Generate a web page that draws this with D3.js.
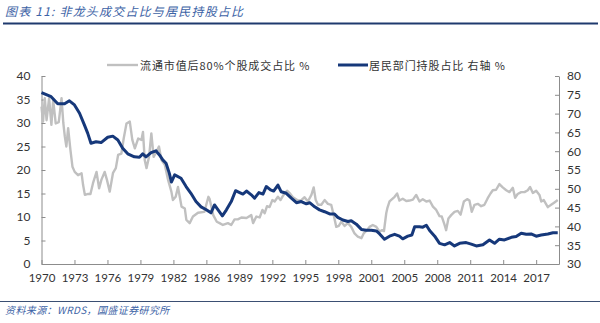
<!DOCTYPE html>
<html>
<head>
<meta charset="utf-8">
<script src="https://cdn.jsdelivr.net/npm/d3@7"></script>
<style>
  html, body { margin: 0; padding: 0; background: #fff; }
  svg { display: block; }
</style>
</head>
<body>
<svg id="chart" width="600" height="323"></svg>
<script>
// ---- data (x = quarter index from 1970Q1) ----
const tickLabels = ["1970","1973","1976","1979","1982","1986","1989","1992","1995","1998","2001","2005","2008","2011","2014","2017"];
const tickStep = 13;          // quarters between labelled ticks
const lastIndex = 204;

const grayIdx = [0,0.6,1.3,2.0,3.0,3.9,4.6,5.6,6.8,7.9,8.6,9.2,9.8,10.5,11.4,12.2,13.1,14.4,15.8,16.4,17.1,18.4,19.3,20.3,21.7,22.7,23.6,24.9,25.8,26.9,28.2,29.3,30.2,31.5,32.4,33.5,34.8,35.8,36.8,38.1,39.4,40.0,40.7,41.4,42.4,43.3,44.2,45.3,46.3,47.3,48.6,49.9,51.2,51.8,52.9,53.8,54.5,55.2,56.5,57.1,58.4,59.7,61.7,64.2,65.8,66.3,67.7,69.1,70.2,71.5,73.5,74.8,76.1,77.4,78.8,80.8,82.7,83.4,84.7,86.0,87.1,88.0,88.9,89.9,91.0,91.9,93.2,94.2,95.4,96.8,97.8,99.1,101.1,102.4,103.7,105.0,106.4,107.3,108.1,109.0,110.3,111.6,112.9,114.2,115.1,116.2,117.2,118.2,119.5,120.8,122.1,123.4,124.7,126.1,127.0,128.3,129.3,130.6,132.0,133.3,134.3,135.0,135.9,136.4,137.2,139.2,140.2,141.1,142.4,143.8,145.1,146.4,147.7,149.0,150.3,151.7,153.0,154.3,155.6,156.9,157.8,158.9,159.5,160.4,161.5,162.8,164.1,165.2,166.5,167.8,168.7,169.6,170.7,172.0,173.3,174.6,175.9,177.0,177.9,179.2,180.5,181.8,183.2,184.5,185.8,186.7,187.7,189.1,190.4,191.7,192.6,193.7,195.0,196.3,197.0,198.0,199.6,200.9,202.2,203.5];
const grayPct = [33.5,30.3,35.3,30.6,35.3,29.6,34.9,29.9,30.2,35.3,30.0,27.1,25.0,28.9,24.3,20.7,19.6,18.9,19.3,16.8,14.7,14.9,14.9,17.2,19.6,16.1,17.9,19.6,17.9,15.4,19.4,20.4,23.2,23.5,26.7,29.9,30.3,26.4,24.6,26.7,26.4,28.1,22.1,20.4,22.8,27.8,22.8,23.9,25.0,22.1,21.1,17.9,15.4,13.6,14.3,16.4,14.3,12.2,11.8,9.4,8.7,10.1,10.9,11.1,14.3,13.8,10.4,9.0,8.7,8.3,8.7,8.3,9.5,9.5,9.9,9.8,10.4,8.7,10.1,9.9,11.5,10.8,12.3,12.1,13.6,13.3,14.3,13.6,14.7,15.6,15.1,14.2,13.5,13.6,14.2,13.3,14.7,16.3,13.6,12.6,12.6,13.6,12.8,12.6,10.6,7.9,8.1,9.0,8.1,8.7,7.9,6.5,5.8,5.5,6.5,7.2,7.9,8.3,7.9,6.9,7.2,7.0,10.8,12.0,13.3,14.3,15.0,13.5,13.9,13.4,13.5,13.7,14.7,13.3,13.8,13.3,13.5,12.2,11.5,10.2,10.1,8.3,7.2,9.7,10.4,11.1,11.3,10.5,13.3,13.8,13.5,11.1,12.6,12.8,12.3,12.6,14.0,15.0,15.7,15.8,17.0,16.3,15.7,15.3,16.2,14.1,14.9,15.3,15.3,15.7,16.4,15.1,15.6,14.7,13.3,13.6,12.1,12.6,13.1,13.6];

const blueIdx = [0,3.8,6.4,9.1,11.0,13.0,15.0,16.9,18.2,19.5,21.5,23.5,26.1,28.1,30.1,32.0,34.0,36.6,38.6,39.9,41.2,43.2,45.1,46.5,47.8,49.1,50.4,51.2,52.5,55.0,57.0,58.9,60.9,62.9,64.8,66.8,68.2,69.6,71.3,72.9,74.8,76.5,78.1,79.4,80.8,82.7,84.0,85.7,87.3,88.6,90.3,91.5,93.2,94.5,96.5,98.5,100.5,102.4,104.4,105.7,107.7,109.6,111.6,113.6,115.5,116.8,118.8,120.8,122.1,124.1,126.1,128.0,130.0,132.0,133.3,135.2,137.2,139.2,141.1,142.4,144.4,146.0,147.1,149.0,150.3,151.7,153.0,155.0,156.9,158.9,160.9,162.8,164.8,167.4,169.4,171.4,174.0,176.6,178.6,180.5,182.5,185.2,187.1,189.1,191.1,193.0,195.0,197.0,199.6,201.6,203.5];
const bluePct = [75.6,74.5,72.6,72.6,73.4,72.3,70.1,67.0,64.8,62.1,62.5,62.3,63.7,64.0,63.0,60.8,59.3,58.5,58.4,59.3,58.5,59.6,60.1,59.0,57.7,56.8,54.1,51.8,53.7,52.8,50.6,48.8,46.6,45.2,44.5,43.6,45.7,44.4,42.8,44.4,46.6,49.5,49.0,48.6,49.4,48.4,47.5,49.0,48.6,50.6,49.7,49.4,51.0,49.2,48.8,47.5,46.3,46.6,46.0,46.3,45.2,44.4,43.9,43.3,43.3,42.4,41.7,41.3,41.5,40.6,39.2,39.0,39.0,38.8,38.0,36.6,37.4,37.9,37.4,36.7,37.4,37.7,39.9,39.9,39.8,40.3,38.9,37.4,35.5,35.1,35.7,34.8,35.5,35.7,35.3,34.8,35.1,36.4,35.5,36.6,36.4,37.1,37.3,38.2,37.9,38.0,37.4,37.7,38.0,38.3,38.3];

const leftTicks = [0,5,10,15,20,25,30,35,40];
const rightTicks = [30,35,40,45,50,55,60,65,70,75,80];

const titleText = "图表 11:  非龙头成交占比与居民持股占比";
const sourceText = "资料来源：WRDS，国盛证券研究所";
const grayName = "流通市值后80%个股成交占比 %";
const blueName = "居民部门持股占比 右轴 %";

// ---- drawing ----
const svg = d3.select("#chart");
const m = {left: 41.5, right: 559, top: 76, bottom: 264};
const axisColor = "#8c8c8c";
const textColor = "#333";
const grayColor = "#c0c0c0";
const blueColor = "#16387a";
const headColor = "#3d63a6";
const numFont = "Lato, 'Open Sans', sans-serif";
const cjkFont = "'Noto Sans CJK SC', sans-serif";

const x = d3.scaleLinear().domain([0, lastIndex]).range([m.left, m.right]);
const yL = d3.scaleLinear().domain([0, 40]).range([m.bottom, m.top]);
const yR = d3.scaleLinear().domain([30, 80]).range([m.bottom, m.top]);

// title
svg.append("text").attr("x", 5).attr("y", 16)
  .attr("font-family", cjkFont).attr("font-size", 12).attr("font-style", "italic")
  .attr("letter-spacing", 1.2).attr("font-weight", 400)
  .attr("fill", headColor).text(titleText);
svg.append("line").attr("x1", 3).attr("x2", 598).attr("y1", 23.5).attr("y2", 23.5)
  .attr("stroke", "#1f3a6e").attr("stroke-width", 2);

// bottom rule + source
svg.append("line").attr("x1", 0).attr("x2", 600).attr("y1", 301.5).attr("y2", 301.5)
  .attr("stroke", "#3b4f73").attr("stroke-width", 1.2);
svg.append("text").attr("x", 5).attr("y", 314)
  .attr("font-family", cjkFont).attr("font-size", 10).attr("font-style", "italic")
  .attr("letter-spacing", 0.4)
  .attr("fill", headColor).text(sourceText);

// axes
const xTickVals = tickLabels.map((d, i) => i * tickStep);
const xAxis = d3.axisBottom(x).tickValues(xTickVals)
  .tickFormat((d, i) => tickLabels[i]).tickSizeInner(-4).tickSizeOuter(0).tickPadding(10);
const gx = svg.append("g").attr("transform", `translate(0,${m.bottom})`).call(xAxis);

const gyL = svg.append("g").attr("transform", `translate(${m.left},0)`)
  .call(d3.axisLeft(yL).tickValues(leftTicks).tickSizeInner(-4).tickSizeOuter(0).tickPadding(11));
const gyR = svg.append("g").attr("transform", `translate(${m.right},0)`)
  .call(d3.axisRight(yR).tickValues(rightTicks).tickSizeInner(-4).tickSizeOuter(0).tickPadding(8));

[gx, gyL, gyR].forEach(g => {
  g.select(".domain").attr("stroke", axisColor).attr("stroke-width", 1);
  g.selectAll(".tick line").attr("stroke", axisColor);
  g.selectAll("text").attr("font-family", numFont).attr("font-size", 12).attr("fill", textColor);
});
gx.selectAll("text").attr("font-size", 11.5);

// lines
const grayData = grayIdx.map((d, i) => [d, grayPct[i]]);
const blueData = blueIdx.map((d, i) => [d, bluePct[i]]);

svg.append("path").datum(grayData)
  .attr("fill", "none").attr("stroke", grayColor).attr("stroke-width", 2.4)
  .attr("stroke-linejoin", "round")
  .attr("d", d3.line().x(d => x(d[0])).y(d => yL(d[1])));

svg.append("path").datum(blueData)
  .attr("fill", "none").attr("stroke", blueColor).attr("stroke-width", 3)
  .attr("stroke-linejoin", "round")
  .attr("d", d3.line().x(d => x(d[0])).y(d => yR(d[1])));

// legend
const lg = svg.append("g").attr("font-family", cjkFont).attr("font-size", 11).attr("fill", textColor)
  .attr("letter-spacing", 0.9);
lg.append("line").attr("x1", 107).attr("x2", 138).attr("y1", 65).attr("y2", 65)
  .attr("stroke", grayColor).attr("stroke-width", 2.4);
lg.append("text").attr("x", 140).attr("y", 69.5).text(grayName);
lg.append("line").attr("x1", 338).attr("x2", 368).attr("y1", 65).attr("y2", 65)
  .attr("stroke", blueColor).attr("stroke-width", 3);
lg.append("text").attr("x", 369).attr("y", 69.5).text(blueName);
</script>
</body>
</html>
